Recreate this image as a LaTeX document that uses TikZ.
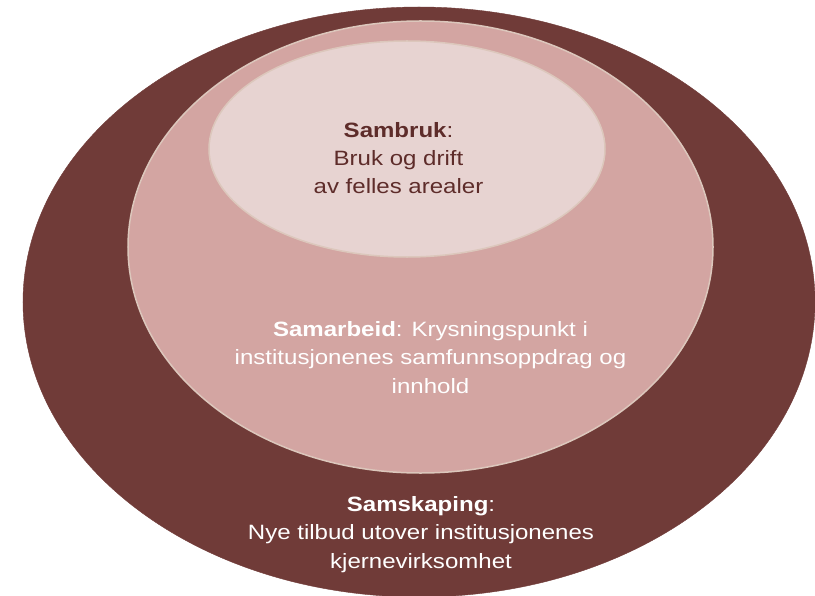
\documentclass[tikz,border=0pt]{standalone}
\usepackage{fontspec}
\setmainfont{Liberation Sans}[FakeStretch=1.16]
\usetikzlibrary{shapes.geometric}
\definecolor{outerbrown}{HTML}{703B38}
\definecolor{midpink}{HTML}{D3A5A2}
\definecolor{innerpink}{HTML}{E7D3D1}
\definecolor{rimbeige}{HTML}{DCC7BC}
\definecolor{darktext}{HTML}{5E2C2A}
\tikzset{
  ring/.style={ellipse, inner sep=0pt, outer sep=0pt},
  label text/.style={align=center, inner sep=0pt,
    font=\fontsize{20.8}{28.4}\selectfont},
}
\begin{document}
\begin{tikzpicture}[x=1bp,y=-1bp]
\useasboundingbox (0,0) rectangle (815,596);
\node[ring, fill=outerbrown, draw=outerbrown, minimum width=792bp, minimum height=590bp] (outer) at (419,302) {};
\node[ring, fill=midpink, draw=rimbeige, line width=1.5bp, minimum width=585bp, minimum height=452bp] (middle) at (420.5,247) {};
\node[ring, fill=innerpink, draw=rimbeige, line width=1.5bp, minimum width=396bp, minimum height=216bp] (inner) at (407,149) {};
\node[label text, text=darktext] (sambruk) at (398.5,158) {\textbf{Sambruk}:\\Bruk og drift\\av felles arealer};
\node[label text, text=white] (samarbeid) at (430.5,357.5) {\textbf{Samarbeid}: Krysningspunkt i\\institusjonenes samfunnsoppdrag og\\innhold};
\node[label text, text=white] (samskaping) at (421,534.5) {\textbf{Samskaping}:\\Nye tilbud utover institusjonenes\\kjernevirksomhet};
\end{tikzpicture}
\end{document}
